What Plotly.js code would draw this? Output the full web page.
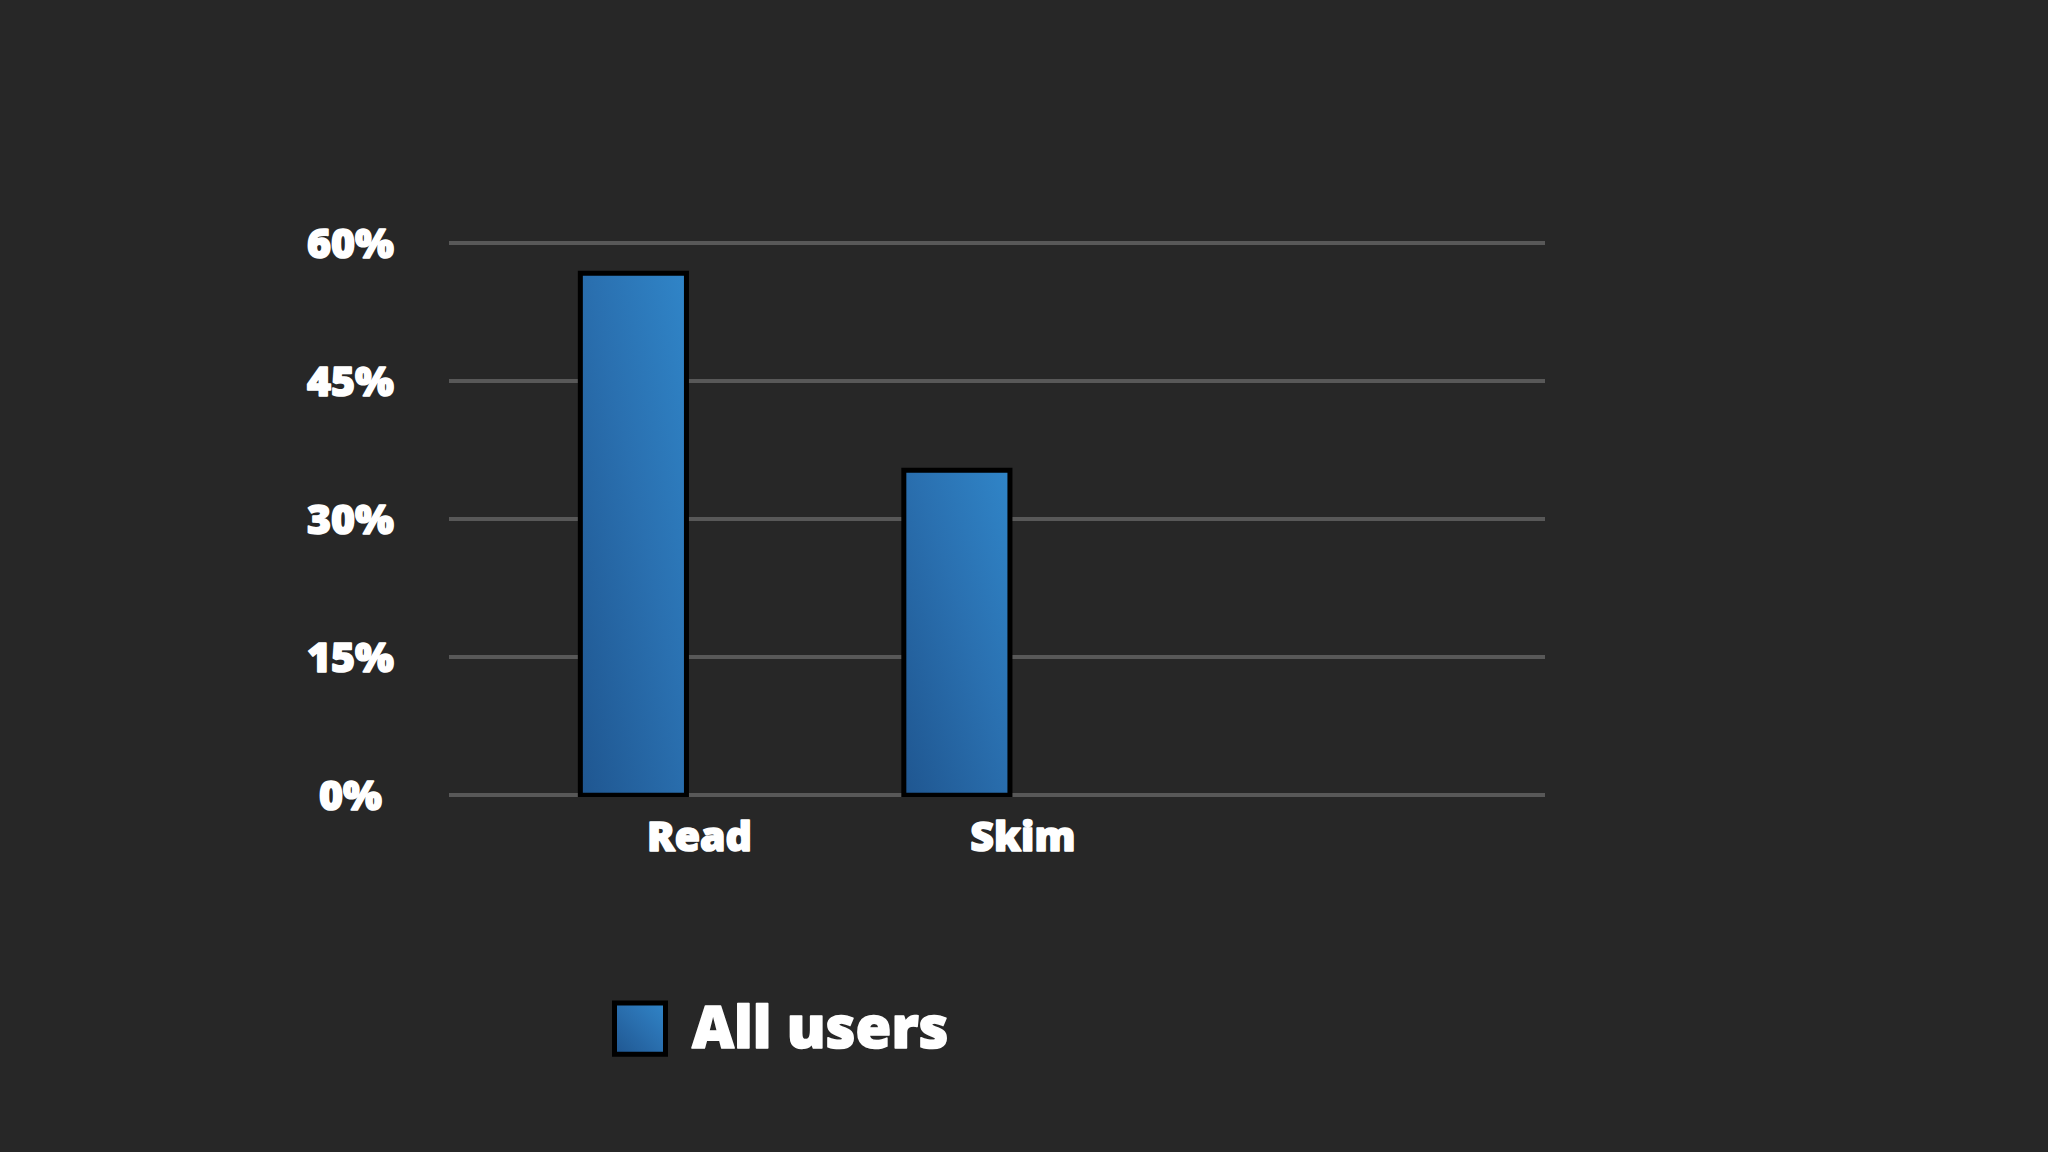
<!DOCTYPE html>
<html>
<head>
<meta charset="utf-8">
<script src="https://cdn.plot.ly/plotly-3.0.1.min.js"></script>
<style>
  html, body { margin: 0; padding: 0; background: #272727; }
  #chart { width: 2048px; height: 1152px; }
</style>
</head>
<body>
<div id="chart"></div>
<script>
// ---- data ----
const categories = ["Read", "Skim"];
const seriesName = "All users";
const values = [56.7, 35.3];
const yTickValues = [0, 15, 30, 45, 60];
const yTickLabels = ["0%", "15%", "30%", "45%", "60%"];

// ---- styling ----
const BG = "#272727";
const FONT = "'Open Sans', 'Noto Sans', sans-serif";
const BAR_COLOR = "#2a70b0";

const trace = {
  type: "bar",
  x: categories,
  y: values,
  name: seriesName,
  width: 0.328,
  marker: { color: BAR_COLOR, line: { color: "#000000", width: 5 } },
  hoverinfo: "skip",
  showlegend: false
};

const yAnnotations = yTickValues.map((v, i) => ({
  xref: "paper", yref: "y",
  x: (350 - 449) / 1096, y: v,
  text: yTickLabels[i],
  showarrow: false,
  xanchor: "center", yanchor: "middle",
  yshift: 1,
  font: { family: FONT, size: 41, color: "#ffffff", weight: 800 }
}));

const legendAnnotation = {
  xref: "paper", yref: "paper",
  x: (690 - 449) / 1096, y: (795 - 1022) / 552,
  text: seriesName,
  showarrow: false,
  xanchor: "left", yanchor: "middle",
  font: { family: FONT, size: 58, color: "#ffffff", weight: 800 }
};

const layout = {
  width: 2048, height: 1152,
  paper_bgcolor: BG, plot_bgcolor: BG,
  margin: { l: 449, r: 503, t: 241, b: 355, pad: 0 },
  showlegend: false,
  bargap: 0,
  xaxis: {
    type: "category",
    range: [-0.570, 2.818],
    showgrid: false, zeroline: false, showline: false,
    ticks: "",
    ticklabelshift: 66,
    ticklabelstandoff: 12,
    tickfont: { family: FONT, size: 41, color: "#ffffff", weight: 800 },
    fixedrange: true
  },
  yaxis: {
    range: [-0.2, 60.2],
    tickvals: yTickValues,
    showticklabels: false,
    showgrid: true, gridcolor: "#585858", gridwidth: 4,
    zeroline: false, showline: false,
    fixedrange: true
  },
  annotations: yAnnotations.concat([legendAnnotation]),
  shapes: [{
    type: "rect", xref: "paper", yref: "paper",
    x0: (614.5 - 449) / 1096, x1: (665.5 - 449) / 1096,
    y0: (795 - 1050.5) / 552, y1: (795 - 999.5) / 552,
    fillcolor: BAR_COLOR,
    line: { color: "#000000", width: 5 }
  }]
};

Plotly.newPlot("chart", [trace], layout, { displayModeBar: false, staticPlot: true }).then(gd => {
  const svg = gd.querySelector("svg.main-svg");
  const ns = "http://www.w3.org/2000/svg";
  let defs = svg.querySelector("defs");
  if (!defs) { defs = document.createElementNS(ns, "defs"); svg.insertBefore(defs, svg.firstChild); }
  const grad = document.createElementNS(ns, "linearGradient");
  grad.setAttribute("id", "barGrad");
  grad.setAttribute("x1", "0"); grad.setAttribute("y1", "1");
  grad.setAttribute("x2", "1"); grad.setAttribute("y2", "0");
  [["0%", "#1f5690"], ["55%", "#2a70b0"], ["100%", "#3085c8"]].forEach(([o, c]) => {
    const s = document.createElementNS(ns, "stop");
    s.setAttribute("offset", o); s.setAttribute("stop-color", c);
    grad.appendChild(s);
  });
  defs.appendChild(grad);
  gd.querySelectorAll(".barlayer .point path").forEach(p => { p.style.fill = "url(#barGrad)"; });
  gd.querySelectorAll(".shapelayer path").forEach(p => { p.style.fill = "url(#barGrad)"; p.style.fillOpacity = 1; });
  // heavier text weight to match the extra-bold look
  document.querySelectorAll("#chart text").forEach(t => {
    t.style.stroke = "#ffffff";
    t.style.strokeWidth = "1.6px";
    t.style.strokeLinejoin = "round";
  });
});
</script>
</body>
</html>
